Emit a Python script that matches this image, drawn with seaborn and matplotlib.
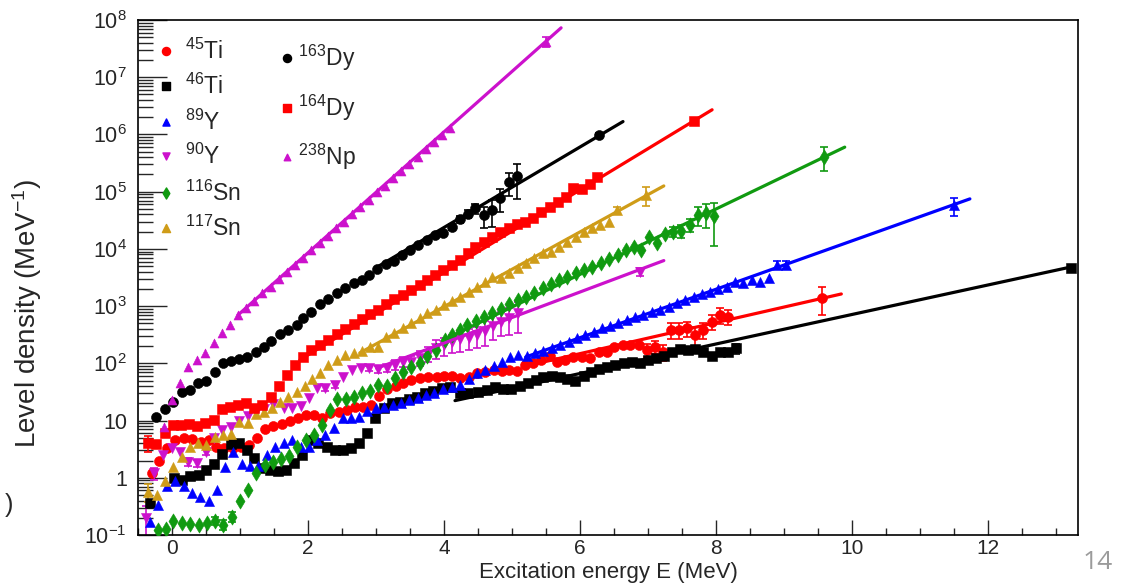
import numpy as np
import matplotlib
matplotlib.use('Agg')
import matplotlib.pyplot as plt
import seaborn as sns
from matplotlib.ticker import MultipleLocator, LogLocator, NullFormatter, FuncFormatter, FixedLocator

# ---- values: energy (MeV), level density (1/MeV), relative error
ti45_e = [-0.30, -0.19, -0.07, 0.05, 0.18, 0.29, 0.42, 0.54, 0.65, 0.77,
          0.89, 1.02, 1.13, 1.25, 1.37, 1.49, 1.61, 1.73, 1.85, 1.97,
          2.08, 2.20, 2.32, 2.45, 2.57, 2.69, 2.81, 2.92, 3.04, 3.16,
          3.29, 3.40, 3.52, 3.64, 3.76, 3.89, 4.00, 4.12, 4.24, 4.36,
          4.48, 4.60, 4.73, 4.85, 4.96, 5.07, 5.19, 5.31, 5.43, 5.55,
          5.66, 5.78, 5.90, 6.03, 6.15, 6.27, 6.39, 6.50, 6.63, 6.74,
          6.86, 6.98, 7.10, 7.22, 7.33, 7.45, 7.57, 7.69, 7.81, 7.94,
          8.05, 8.17, 9.56]
ti45_rho = [1.2, 1.93, 3.3, 4.6, 5.0, 4.7, 4.2, 4.6, 3.4, 3.25,
            3.3, 3.4, 3.7, 5.0, 7.1, 8.0, 8.8, 9.7, 11, 12.3,
            12.3, 11, 13.4, 14.3, 15, 17, 17.5, 18.7, 26.9, 35.6,
            40.7, 45.4, 50.7, 55, 56.6, 58.5, 59, 59.4, 55, 58.5,
            67, 71.6, 76.7, 74.5, 76.7, 74.5, 93.8, 100, 115, 135,
            107, 115, 128, 131, 123, 160, 160, 196, 210, 210,
            210, 171, 196, 160, 384, 384, 411, 314, 384, 536,
            702, 656, 1410]
ti45_err = [0] * 61 + [0.25, 0.25, 0.3, 0.3, 0.3, 0.3, 0.35, 0.3, 0.3, 0.3, 0.3, 0.5]

ti46_e = [-0.32, 0.03, 0.14, 0.26, 0.39, 0.50, 0.62, 0.74, 0.86, 0.98,
          1.10, 1.21, 1.33, 1.44, 1.56, 1.68, 1.79, 1.91, 2.03, 2.15,
          2.28, 2.39, 2.51, 2.63, 2.75, 2.86, 2.99, 3.11, 3.23, 3.35,
          3.48, 3.60, 3.72, 3.84, 3.97, 4.09, 4.24, 4.35, 4.50, 4.63,
          4.75, 4.87, 4.99, 5.11, 5.23, 5.35, 5.46, 5.58, 5.71, 5.80,
          5.93, 6.05, 6.16, 6.28, 6.40, 6.51, 6.64, 6.76, 6.88, 7.00,
          7.12, 7.23, 7.35, 7.47, 7.59, 7.69, 7.81, 7.94, 8.06, 8.18,
          8.29, 13.22]
ti46_rho = [0.36, 1.0, 0.93, 1.09, 1.13, 1.37, 1.72, 2.6, 3.9, 4.0,
            3.0, 2.2, 1.48, 1.34, 1.33, 1.37, 1.79, 2.5, 4.6, 4.0,
            3.5, 3.0, 3.0, 3.3, 4.1, 6.1, 11, 16.4, 20, 21.4,
            23.6, 26.2, 30, 32.9, 36.7, 38, 30, 30.8, 32, 34.3,
            38.2, 35.2, 35.2, 40.3, 44.9, 51.3, 57.1, 60.3, 58.5, 52.7,
            49.9, 60.3, 71.6, 78.9, 85.5, 93.8, 100, 107, 100, 115,
            123, 135, 160, 177, 171, 177, 160, 135, 160, 160,
            184, 4710]
ti46_err = [0] * 70 + [0.2, 0.1]

y89_e = [-0.32, -0.20, -0.08, 0.04, 0.17, 0.29, 0.41, 0.54, 0.66, 0.78,
         0.90, 1.03, 1.15, 1.27, 1.39, 1.52, 1.64, 1.76, 1.89, 2.01,
         2.13, 2.25, 2.38, 2.51, 2.63, 2.75, 2.87, 3.00, 3.12, 3.25,
         3.36, 3.49, 3.61, 3.74, 3.85, 3.98, 4.11, 4.24, 4.36, 4.48,
         4.60, 4.73, 4.85, 4.97, 5.09, 5.22, 5.34, 5.46, 5.58, 5.71,
         5.83, 5.95, 6.07, 6.20, 6.32, 6.44, 6.56, 6.69, 6.81, 6.93,
         7.05, 7.18, 7.30, 7.42, 7.54, 7.67, 7.79, 7.91, 8.03, 8.16,
         8.28, 8.40, 8.53, 8.65, 8.78, 8.90, 9.02, 11.50]
y89_rho = [0.166, 0.33, 0.71, 0.88, 0.72, 0.55, 0.46, 0.40, 0.61, 1.56,
           2.82, 1.71, 1.61, 1.61, 2.5, 3.45, 4.1, 4.6, 3.45, 3.45,
           4.6, 5.6, 7.3, 11, 11, 11.4, 14.9, 16.4, 17.1, 18.7,
           20, 22.9, 24.5, 28, 30, 35.2, 39.2, 41.9, 52.7, 67.1,
           76.7, 90.2, 107, 131, 140, 135, 150, 167, 184, 210,
           239, 274, 314, 358, 410, 456, 515, 574, 640, 702,
           802, 859, 980, 1122, 1282, 1466, 1633, 1795, 1972, 2193,
           2680, 2512, 2870, 2680, 3076, 5250, 5250, 58000]
y89_err = [0] * 75 + [0.15, 0.15, 0.35]

y90_e = [-0.38, -0.26, -0.14, 0.00, 0.12, 0.24, 0.37, 0.50, 0.62, 0.74,
         0.86, 0.99, 1.11, 1.24, 1.35, 1.48, 1.64, 1.76, 1.89, 2.01,
         2.13, 2.25, 2.40, 2.52, 2.65, 2.78, 2.90, 3.03, 3.16, 3.28,
         3.40, 3.52, 3.64, 3.76, 3.88, 4.00, 4.12, 4.24, 4.36, 4.48,
         4.60, 4.72, 4.84, 4.96, 5.08, 6.88]
y90_rho = [0.2, 1.2, 2.5, 3.3, 2.86, 1.9, 1.79, 2.86, 5.0, 6.9,
           7.8, 9.8, 12.2, 14, 16, 19.5, 16.4, 16.4, 18, 24.5,
           36.6, 36.6, 41.9, 58.6, 76.7, 82, 82, 78.7, 82, 93.8,
           107, 107, 126, 148, 186, 209, 234, 263, 282, 309,
           372, 457, 537, 617, 759, 4010]
y90_err = [0.6, 0.25, 0, 0, 0, 0.15, 0.15, 0.12, 0, 0,
           0, 0, 0, 0, 0, 0, 0, 0, 0, 0,
           0, 0.12, 0.12, 0, 0, 0, 0.1, 0.15, 0.15, 0.2,
           0.2, 0.25, 0.3, 0.3, 0.35, 0.35, 0.35, 0.4, 0.4, 0.4,
           0.45, 0.45, 0.45, 0.5, 0.55, 0.15]

sn116_e = [-0.20, -0.09, 0.02, 0.14, 0.26, 0.39, 0.51, 0.63, 0.75, 0.88,
           1.00, 1.11, 1.24, 1.36, 1.48, 1.60, 1.72, 1.84, 1.97, 2.08,
           2.20, 2.32, 2.43, 2.56, 2.68, 2.79, 2.91, 3.03, 3.16, 3.28,
           3.40, 3.52, 3.65, 3.75, 3.88, 4.01, 4.12, 4.24, 4.34, 4.47,
           4.59, 4.71, 4.83, 4.96, 5.08, 5.20, 5.32, 5.45, 5.57, 5.69,
           5.81, 5.94, 6.06, 6.18, 6.30, 6.43, 6.55, 6.67, 6.79, 6.89,
           7.01, 7.13, 7.25, 7.36, 7.49, 7.61, 7.73, 7.85, 7.97, 9.59]
sn116_rho = [0.122, 0.126, 0.178, 0.164, 0.156, 0.15, 0.164, 0.178, 0.15, 0.209,
             0.39, 0.61, 1.23, 1.65, 1.91, 2.15, 2.45, 3.39, 4.58, 5.5,
             8.4, 15.3, 23.6, 23.6, 26.2, 30, 33.3, 41.9, 40.3, 54.8,
             71.6, 87.5, 100, 134.6, 171, 256, 314, 384, 469, 558,
             656, 752, 893, 1091, 1282, 1466, 1722, 2056, 2443, 2871,
             3281, 3855, 4295, 4909, 5623, 6607, 7852, 9616, 10960, 9616,
             16410, 12590, 18280, 20050, 20840, 26240, 39260, 42070, 37760, 411000]
sn116_err = [0] * 7 + [0.15, 0.2, 0.2] + [0] * 53 + [0.2, 0.25, 0.25, 0.35, 0.45, 0.7, 0.45]

sn117_e = [-0.35, -0.22, -0.11, 0.01, 0.14, 0.26, 0.38, 0.50, 0.63, 0.75,
           0.86, 0.99, 1.11, 1.23, 1.35, 1.47, 1.58, 1.71, 1.83, 1.95,
           2.06, 2.18, 2.30, 2.42, 2.54, 2.67, 2.79, 2.91, 3.03, 3.15,
           3.27, 3.39, 3.51, 3.64, 3.75, 3.88, 4.00, 4.12, 4.24, 4.36,
           4.48, 4.60, 4.71, 4.83, 4.96, 5.08, 5.20, 5.32, 5.45, 5.57,
           5.69, 5.81, 5.94, 6.05, 6.17, 6.29, 6.42, 6.54, 6.97]
sn117_rho = [0.57, 0.51, 0.89, 1.53, 2.34, 3.41, 4.0, 3.74, 5.24, 5.6,
             5.83, 9.57, 9.2, 13, 14.3, 16.8, 21.4, 26.2, 32, 40.7,
             52.7, 68.7, 93.8, 115, 140, 150, 167, 196, 196, 286,
             336, 411, 502, 615, 752, 859, 1050, 1247, 1466, 1791,
             2138, 2680, 3281, 3069, 3750, 4592, 5610, 6871, 8395, 8974,
             10960, 13430, 16410, 20050, 23010, 26300, 30000, 48100, 88000]
sn117_err = [0.35] + [0] * 56 + [0.12, 0.35]

dy163_e = [-0.23, -0.10, 0.02, 0.14, 0.26, 0.38, 0.50, 0.63, 0.75, 0.86,
           0.98, 1.10, 1.23, 1.35, 1.46, 1.58, 1.71, 1.83, 1.93, 2.05,
           2.18, 2.30, 2.42, 2.54, 2.67, 2.79, 2.90, 3.02, 3.15, 3.27,
           3.38, 3.50, 3.62, 3.75, 3.87, 3.99, 4.11, 4.24, 4.35, 4.46,
           4.58, 4.70, 4.82, 4.95, 5.07, 6.28]
dy163_rho = [11.7, 16, 20.7, 31.6, 33.6, 44.9, 49.2, 69.8, 100, 111,
             118, 131, 158, 196, 247, 327, 384, 469, 615, 802,
             1080, 1336, 1682, 2056, 2576, 2871, 3508, 4416, 5470, 6166,
             7852, 9616, 11750, 14360, 17580, 18790, 24550, 33030, 40900, 51500,
             39300, 48100, 76900, 150000, 188800, 984000]
dy163_err = [0] * 35 + [0.1, 0.12, 0.15, 0.15, 0.2, 0.4, 0.5, 0.42, 0.43, 0.6, 0.08]

dy164_e = [-0.35, -0.23, -0.11, 0.01, 0.13, 0.25, 0.37, 0.49, 0.61, 0.73,
           0.85, 0.97, 1.09, 1.21, 1.33, 1.45, 1.57, 1.69, 1.81, 1.93,
           2.05, 2.18, 2.30, 2.42, 2.54, 2.67, 2.79, 2.91, 3.03, 3.15,
           3.27, 3.39, 3.51, 3.64, 3.75, 3.87, 3.99, 4.11, 4.24, 4.35,
           4.46, 4.58, 4.70, 4.82, 4.95, 5.07, 5.19, 5.30, 5.43, 5.55,
           5.67, 5.79, 5.90, 6.02, 6.15, 6.25, 7.67]
dy164_rho = [4.1, 3.9, 6.0, 8.3, 8.4, 8.6, 8.1, 9.0, 10.4, 16.1,
             17.5, 18.5, 20.3, 16.9, 18.4, 25.5, 40.3, 62.7, 93.8, 129,
             171, 210, 257, 327, 394, 489, 590, 731, 859, 1079,
             1321, 1570, 1919, 2350, 2871, 3508, 4295, 5248, 6427, 8337,
             10960, 13430, 16410, 19590, 23010, 27350, 30000, 34440, 43850, 54830,
             67140, 82030, 114800, 110700, 136800, 179100, 1750000]
dy164_err = [0.32] + [0] * 55 + [0.05]

np238_e = [-0.12, 0.00, 0.12, 0.24, 0.36, 0.49, 0.61, 0.73, 0.85, 0.97,
           1.09, 1.21, 1.33, 1.45, 1.57, 1.69, 1.81, 1.93, 2.05, 2.17,
           2.29, 2.41, 2.53, 2.65, 2.77, 2.89, 3.01, 3.13, 3.25, 3.37,
           3.49, 3.61, 3.73, 3.85, 3.97, 4.09, 5.50]
np238_rho = [7.8, 22.9, 44.9, 87.7, 115, 150, 224, 336, 469, 702,
             930, 1240, 1700, 2200, 2950, 4000, 5300, 7000, 9600, 12500,
             17000, 23000, 30000, 41000, 54000, 72000, 97000, 128000, 172000, 232000,
             305000, 410000, 550000, 740000, 980000, 1300000, 4.2e7]
np238_err = [0] * 36 + [0.2]

# constant-temperature fits (end points)
ti45_fit_e, ti45_fit_rho = [5.16, 9.84], [87.5, 1630]
ti46_fit_e, ti46_fit_rho = [4.16, 13.24], [22.3, 4900]
y89_fit_e, y89_fit_rho = [5.20, 11.73], [129, 74800]
y90_fit_e, y90_fit_rho = [3.01, 7.23], [82, 6250]
sn116_fit_e, sn116_fit_rho = [3.99, 9.89], [256, 6.0e5]
sn117_fit_e, sn117_fit_rho = [2.76, 7.23], [152, 1.26e5]
dy163_fit_e, dy163_fit_rho = [3.0, 6.63], [4700, 1.68e6]
dy164_fit_e, dy164_fit_rho = [1.88, 7.94], [115, 2.7e6]
np238_fit_e, np238_fit_rho = [0.97, 5.72], [700, 7.3e7]

y_decades = [0.1, 1, 10, 1e2, 1e3, 1e4, 1e5, 1e6, 1e7, 1e8]

RED, BLACK, BLUE, MAG, GREEN, GOLD = '#ff0000', '#000000', '#0000ff', '#cc11cc', '#109a10', '#cf9c18'

series = [
    ('$^{45}$Ti', ti45_e, ti45_rho, ti45_err, ti45_fit_e, ti45_fit_rho, RED, 'o', 52),
    ('$^{46}$Ti', ti46_e, ti46_rho, ti46_err, ti46_fit_e, ti46_fit_rho, BLACK, 's', 42),
    ('$^{89}$Y', y89_e, y89_rho, y89_err, y89_fit_e, y89_fit_rho, BLUE, '^', 52),
    ('$^{90}$Y', y90_e, y90_rho, y90_err, y90_fit_e, y90_fit_rho, MAG, 'v', 52),
    ('$^{116}$Sn', sn116_e, sn116_rho, sn116_err, sn116_fit_e, sn116_fit_rho, GREEN, 'd', 60),
    ('$^{117}$Sn', sn117_e, sn117_rho, sn117_err, sn117_fit_e, sn117_fit_rho, GOLD, '^', 52),
    ('$^{163}$Dy', dy163_e, dy163_rho, dy163_err, dy163_fit_e, dy163_fit_rho, BLACK, 'o', 52),
    ('$^{164}$Dy', dy164_e, dy164_rho, dy164_err, dy164_fit_e, dy164_fit_rho, RED, 's', 42),
    ('$^{238}$Np', np238_e, np238_rho, np238_err, np238_fit_e, np238_fit_rho, MAG, '^', 42),
]

sns.set_style('ticks')
plt.rcParams['font.family'] = ['Liberation Sans', 'DejaVu Sans']
plt.rcParams['mathtext.fontset'] = 'custom'
plt.rcParams['mathtext.rm'] = 'Liberation Sans'
plt.rcParams['mathtext.it'] = 'Liberation Sans:italic'
plt.rcParams['mathtext.default'] = 'regular'

fig = plt.figure(figsize=(11.24, 5.87), dpi=100)
ax = fig.add_axes([0.1228, 0.0886, 0.8363, 0.8773])
ax.set_yscale('log')

for label, e, rho, err, fe, frho, c, m, s in series:
    e, rho, err = np.array(e), np.array(rho), np.array(err)
    sel = err > 0
    ax.errorbar(e[sel], rho[sel], yerr=err[sel] * rho[sel], fmt='none', ecolor=c,
                elinewidth=1.2, capsize=3, capthick=1.2, zorder=2)
    sns.scatterplot(x=e, y=rho, marker=m, color=c, s=s, edgecolor=c, linewidth=0.4,
                    ax=ax, zorder=3, legend=False)
    sns.lineplot(x=fe, y=frho, color=c, linewidth=2.3, ax=ax, zorder=4, legend=False)

ax.set_xlim(-0.5, 13.32)
ax.set_ylim(0.1, 1e8)

ax.xaxis.set_major_locator(MultipleLocator(2))
ax.xaxis.set_minor_locator(MultipleLocator(0.5))
ax.yaxis.set_major_locator(FixedLocator(y_decades))
ax.yaxis.set_minor_locator(LogLocator(base=10, subs=np.arange(2, 10), numticks=20))
ax.yaxis.set_minor_formatter(NullFormatter())


def dec_label(v, pos):
    k = int(round(np.log10(v)))
    if k == 0:
        return '1'
    if k == 1:
        return '10'
    return '$10^{%d}$' % k


ax.yaxis.set_major_formatter(FuncFormatter(dec_label))
ax.tick_params(axis='y', which='major', direction='in', length=21, width=1.0, labelsize=15.5, pad=8)
ax.tick_params(axis='y', which='minor', direction='in', length=10.5, width=1.0)
ax.tick_params(axis='x', which='major', direction='in', length=10.5, width=1.0, labelsize=15, pad=3)
ax.tick_params(axis='x', which='minor', direction='in', length=5, width=1.0)
for sp in ax.spines.values():
    sp.set_visible(True)
    sp.set_color('black')
    sp.set_linewidth(1.2)

ax.set_xlabel('Excitation energy E (MeV)', fontsize=16)
ax.xaxis.set_label_coords(0.5, -0.052)
ax.set_ylabel('Level density (MeV$^{-1}$)', fontsize=20)
ax.yaxis.set_label_coords(-0.100, 0.43)

# legend, two columns as in the original ROOT canvas
leg_pos = [(0.0298, 0.050, 0.9404), (0.0298, 0.050, 0.8724), (0.0298, 0.050, 0.8025),
           (0.0298, 0.050, 0.7359), (0.0298, 0.050, 0.6647), (0.0298, 0.050, 0.5961),
           (0.1582, 0.1702, 0.9268), (0.1582, 0.1702, 0.8297), (0.1582, 0.1702, 0.7346)]
leg_size = [34, 30, 26, 26, 32, 34, 34, 38, 22]
for (label, *_, c, m, s), (xm, xt, yy), ls in zip(series, leg_pos, leg_size):
    ax.scatter([xm], [yy], marker=m, color=c, s=ls, transform=ax.transAxes, zorder=5, clip_on=False)
    ax.annotate(label, xy=(xt, yy), xycoords='axes fraction', xytext=(0, -5.9),
                textcoords='offset points', va='baseline', ha='left', fontsize=16.5)

fig.text(0.977, 0.041, '14', color='#9b9b9b', fontsize=19, family=['Open Sans', 'DejaVu Sans'],
         ha='center', va='center')
fig.text(0.004, 0.14, ')', fontsize=18, ha='left', va='center')

fig.savefig('out.png', dpi=100)
